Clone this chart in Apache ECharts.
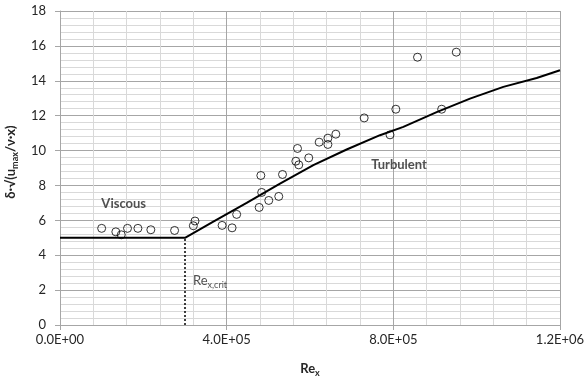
<!DOCTYPE html>
<html>
<head>
<meta charset="utf-8">
<script src="https://cdn.jsdelivr.net/npm/echarts@6/dist/echarts.min.js"></script>
<style>
  html, body { margin: 0; padding: 0; background: #fff; }
  #chart { width: 588px; height: 382px; }
</style>
</head>
<body>
<div id="chart"></div>
<script>
// Measured boundary-layer thickness vs. local Reynolds number
const measRe = [100000, 134000, 147000, 162000, 187000, 218000, 275000, 320000, 324000,
  389000, 413000, 424000, 478000, 484000, 482000, 501000, 525000, 534000, 566000, 573000,
  570000, 597000, 622000, 643000, 643000, 662000, 730000, 792000, 806000, 858000, 916000, 951000];
const measDelta = [5.54, 5.34, 5.17, 5.54, 5.54, 5.46, 5.42, 5.69, 5.96,
  5.71, 5.57, 6.34, 6.74, 7.60, 8.57, 7.14, 7.37, 8.63, 9.39, 9.18,
  10.12, 9.58, 10.48, 10.71, 10.35, 10.94, 11.87, 10.90, 12.37, 15.35, 12.37, 15.64];

// Model curve: viscous plateau then turbulent growth
const curveRe = [0, 300000, 368000, 448000, 528000, 608000, 688000, 768000, 824000,
  904000, 984000, 1064000, 1144000, 1200000];
const curveDelta = [5, 5, 5.92, 7.0, 8.11, 9.16, 10.06, 10.88, 11.36,
  12.2, 12.98, 13.65, 14.16, 14.6];

// Critical Reynolds number
const reCrit = 300000;
const deltaCrit = 5;

// Region annotations
const noteText = ['Viscous', 'Turbulent', '{r|Re}{s|x,crit}'];
const noteRe = [152900, 813600, 319200];
const noteDelta = [6.97, 9.17, 2.46];

// Axis ranges
const xMax = 1200000, xStep = 400000;
const yMax = 18, yStep = 2;

const FONT = 'Lato';
const TXT = '#262626';

function sci(v) {
  if (v === 0) return '0.0E+00';
  const e = Math.floor(Math.log10(Math.abs(v)) + 1e-9);
  const m = v / Math.pow(10, e);
  return m.toFixed(1) + 'E' + (e < 0 ? '-' : '+') + String(Math.abs(e)).padStart(2, '0');
}

// main text + subscript rich styles
function subRich(weight) {
  return {
    r: { fontFamily: FONT, fontWeight: weight, fontSize: 13, color: TXT, lineHeight: 16, verticalAlign: 'top' },
    s: { fontFamily: FONT, fontWeight: weight, fontSize: 9, color: TXT, lineHeight: 10, verticalAlign: 'bottom' }
  };
}

const chart = echarts.init(document.getElementById('chart'), null, { renderer: 'canvas' });

const noteStyles = [
  { fontWeight: 'bold', align: 'center' },
  { fontWeight: 'bold', align: 'center' },
  { fontWeight: 'normal', align: 'left' }
];

chart.setOption({
  animation: false,
  textStyle: { fontFamily: FONT },
  grid: { left: 60, right: 28, top: 11, bottom: 57, containLabel: false, outerBoundsMode: 'none' },
  xAxis: {
    type: 'value', min: 0, max: xMax, interval: xStep,
    name: '{r|Re}{s|x}', nameLocation: 'middle', nameGap: 37,
    nameTextStyle: { rich: subRich('bold') },
    axisLine: { show: true, lineStyle: { color: '#a6a6a6', width: 1 } },
    axisTick: { show: true, length: 5, lineStyle: { color: '#a6a6a6' } },
    axisLabel: { formatter: sci, fontFamily: FONT, fontSize: 13, color: TXT, margin: 8 },
    splitLine: { show: true, lineStyle: { color: '#a6a6a6', width: 1 } },
    minorTick: { show: false, splitNumber: 5 },
    minorSplitLine: { show: true, lineStyle: { color: '#d9d9d9', width: 1 } }
  },
  yAxis: {
    type: 'value', min: 0, max: yMax, interval: yStep,
    name: '{r|δ·√(u}{s|max}{r|/ν·x)}', nameLocation: 'middle', nameGap: 34,
    nameTextStyle: { rich: subRich('bold'), padding: [0, 0, 0, 12] },
    axisLine: { show: true, lineStyle: { color: '#a6a6a6', width: 1 } },
    axisTick: { show: true, length: 5, lineStyle: { color: '#a6a6a6' } },
    axisLabel: { fontFamily: FONT, fontSize: 13, color: TXT, margin: 14 },
    splitLine: { show: true, lineStyle: { color: '#a6a6a6', width: 1 } },
    minorTick: { show: false, splitNumber: 5 },
    minorSplitLine: { show: true, lineStyle: { color: '#d9d9d9', width: 1 } }
  },
  series: [
    {
      name: 'Model',
      type: 'line',
      data: curveRe.map((x, i) => [x, curveDelta[i]]),
      showSymbol: false,
      symbol: 'none',
      lineStyle: { color: '#000', width: 2 },
      z: 3,
      markLine: {
        silent: true,
        symbol: 'none',
        label: { show: false },
        lineStyle: { color: '#000', type: [2, 2], width: 1.5 },
        data: [[{ coord: [reCrit, 0] }, { coord: [reCrit, deltaCrit] }]]
      }
    },
    {
      name: 'Measured',
      type: 'scatter',
      data: measRe.map((x, i) => [x, measDelta[i]]),
      symbol: 'circle',
      symbolSize: 8,
      itemStyle: { color: 'rgba(0,0,0,0)', borderColor: '#000', borderWidth: 1 },
      z: 4
    },
    {
      name: 'Notes',
      type: 'scatter',
      symbolSize: 0,
      silent: true,
      data: noteText.map((t, i) => ({
        value: [noteRe[i], noteDelta[i]],
        label: {
          show: true,
          position: 'inside',
          formatter: t,
          color: TXT,
          fontFamily: FONT,
          fontSize: 13,
          fontWeight: noteStyles[i].fontWeight,
          align: noteStyles[i].align,
          rich: subRich('normal')
        }
      })),
      z: 5
    }
  ]
});
</script>
</body>
</html>
